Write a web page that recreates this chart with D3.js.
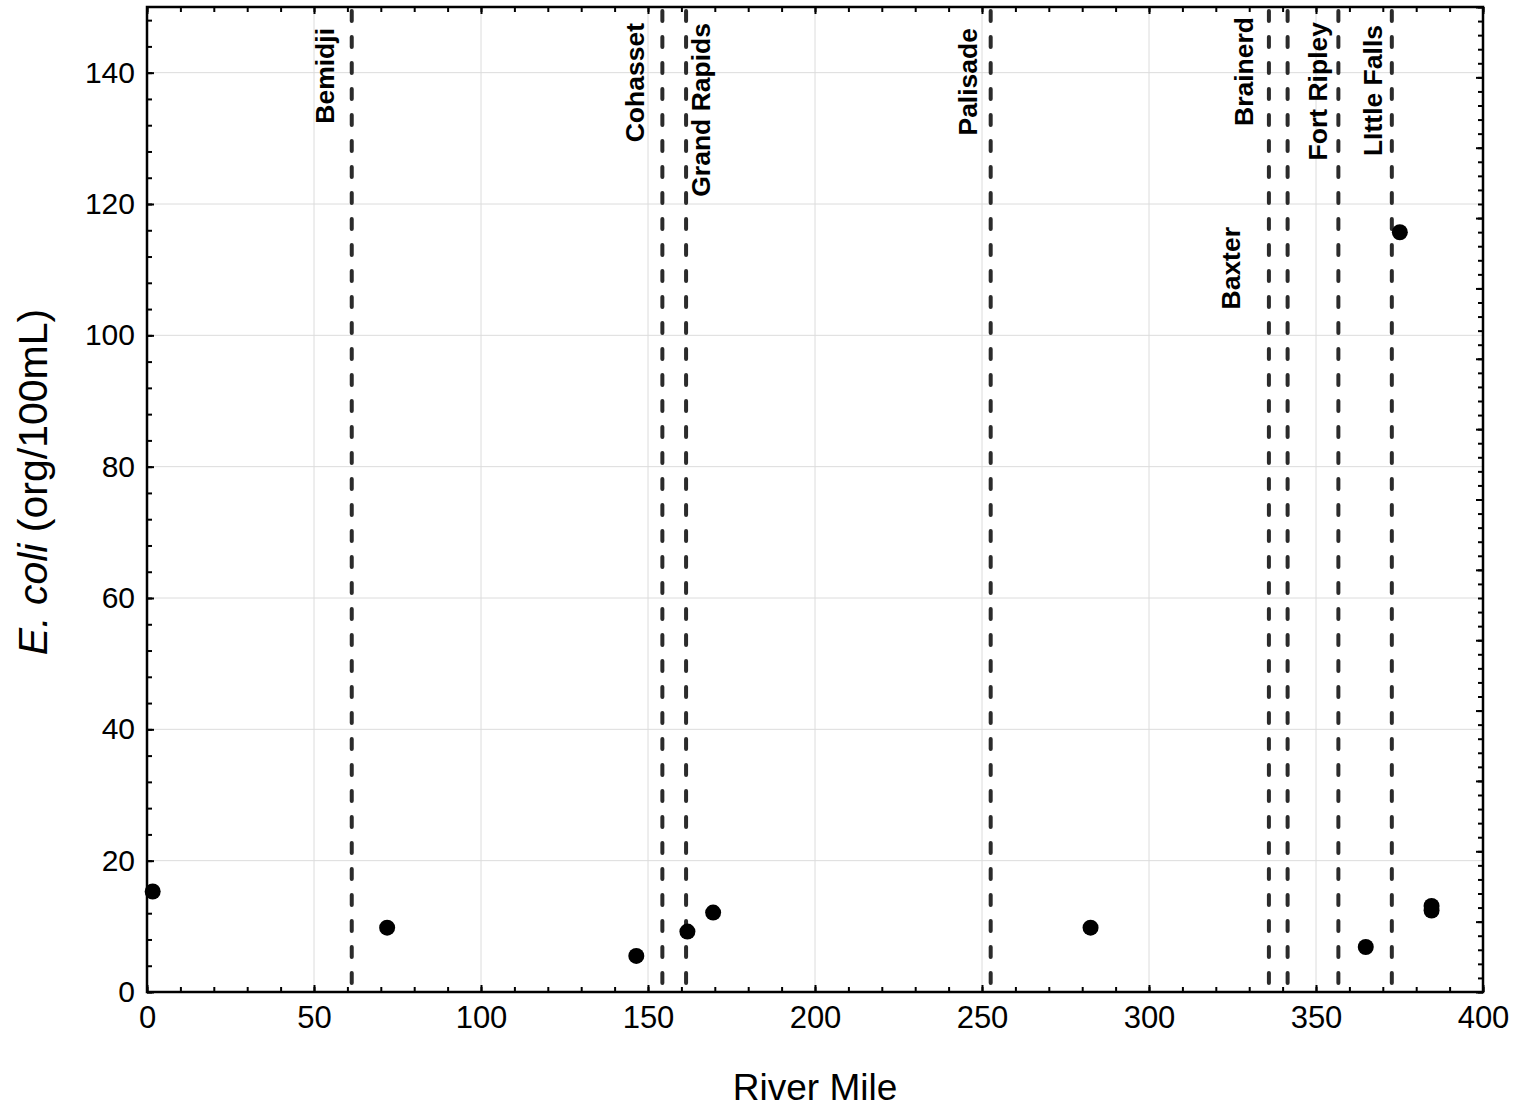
<!DOCTYPE html>
<html>
<head>
<meta charset="utf-8">
<script src="https://cdn.jsdelivr.net/npm/d3@7"></script>
<style>
  html, body { margin: 0; padding: 0; background: #fff; }
  svg { display: block; font-family: "Liberation Sans", Arial, sans-serif; }
</style>
</head>
<body>
<svg id="chart" width="1517" height="1110"></svg>
<script>
// ---- data ----
const stationNames = ["Bemidji", "Cohasset", "Grand Rapids", "Palisade", "Baxter", "Brainerd", "Fort Ripley", "LIttle Falls"];
const stationMiles = [61.3, 154.3, 161.4, 252.6, 335.9, 341.5, 356.7, 372.7];
const pointMiles = [1.7, 71.9, 146.5, 161.8, 169.5, 282.5, 364.9, 375.1, 384.6, 384.6];
const pointEcoli = [15.3, 9.8, 5.5, 9.2, 12.1, 9.8, 6.85, 115.7, 13.1, 12.4];
const xTickValues = [0, 50, 100, 150, 200, 250, 300, 350, 400];
const yTickValues = [0, 20, 40, 60, 80, 100, 120, 140];
const xTitle = "River Mile";
const yTitleItalic = "E. coli";
const yTitleRest = " (org/100mL)";

// ---- layout (not data) ----
const labelLayout = [ // dx from line (px), top y of text (px)
  { dx: -18, top: 28 },
  { dx: -18, top: 23 },
  { dx: 24, top: 23 },
  { dx: -14, top: 28 },
  { dx: -29, top: 227 },
  { dx: -35, top: 17 },
  { dx: -11, top: 22 },
  { dx: -10, top: 25 }
];

const W = 1517, H = 1110;
const margin = { left: 147, right: 34, top: 7, bottom: 118 };
const iw = W - margin.left - margin.right;
const ih = H - margin.top - margin.bottom;

const svg = d3.select("#chart");
const g = svg.append("g").attr("transform", `translate(${margin.left},${margin.top})`);

const x = d3.scaleLinear().domain([0, 400]).range([0, iw]);
const y = d3.scaleLinear().domain([0, 150]).range([ih, 0]);
const yRight = d3.scaleLinear().domain([0, 14]).range([ih, 0]);

// gridlines
g.append("g").selectAll("line").data(xTickValues.filter(v => v > 0 && v < 400)).join("line")
  .attr("x1", d => x(d)).attr("x2", d => x(d)).attr("y1", 0).attr("y2", ih)
  .attr("stroke", "#dcdcdc").attr("stroke-width", 1);
g.append("g").selectAll("line").data(yTickValues.filter(v => v > 0)).join("line")
  .attr("y1", d => y(d)).attr("y2", d => y(d)).attr("x1", 0).attr("x2", iw)
  .attr("stroke", "#dcdcdc").attr("stroke-width", 1);

// station dashed lines
g.append("g").selectAll("line").data(stationMiles).join("line")
  .attr("x1", d => x(d)).attr("x2", d => x(d)).attr("y1", 4).attr("y2", ih)
  .attr("stroke", "#2b2b2b").attr("stroke-width", 4)
  .attr("stroke-linecap", "round")
  .attr("stroke-dasharray", "10,16");

// station labels
g.append("g").selectAll("text").data(stationNames).join("text")
  .attr("transform", (d, i) => `translate(${x(stationMiles[i]) + labelLayout[i].dx},${labelLayout[i].top - margin.top}) rotate(-90)`)
  .attr("text-anchor", "end")
  .attr("font-size", 26.5).attr("font-weight", "bold").attr("fill", "#000")
  .text(d => d);

// points
g.append("g").selectAll("circle").data(pointMiles).join("circle")
  .attr("cx", d => x(d)).attr("cy", (d, i) => y(pointEcoli[i]))
  .attr("r", 8).attr("fill", "#000");

function styleAxis(sel) {
  sel.select(".domain").remove();
  sel.selectAll(".tick line").attr("stroke", "#000").attr("stroke-width", 2);
  sel.selectAll(".tick text").attr("fill", "#000").attr("font-family", '"Liberation Sans", Arial, sans-serif');
}

// bottom axis
g.append("g").attr("transform", `translate(0,${ih})`)
  .call(d3.axisBottom(x).tickValues(d3.range(0, 401, 10)).tickSize(-5).tickFormat(""))
  .call(styleAxis);
g.append("g").attr("transform", `translate(0,${ih})`)
  .call(d3.axisBottom(x).tickValues(xTickValues).tickSize(-7).tickPadding(14).tickFormat(d3.format("d")))
  .call(styleAxis)
  .selectAll("text").attr("font-size", 31);

// top axis
g.append("g")
  .call(d3.axisTop(x).tickValues(d3.range(0, 401, 10)).tickSize(-5).tickFormat(""))
  .call(styleAxis);
g.append("g")
  .call(d3.axisTop(x).tickValues(xTickValues).tickSize(-7).tickFormat(""))
  .call(styleAxis);

// left axis
g.append("g")
  .call(d3.axisLeft(y).tickValues(d3.range(0, 151, 4)).tickSize(-5).tickFormat(""))
  .call(styleAxis);
g.append("g")
  .call(d3.axisLeft(y).tickValues(yTickValues).tickSize(-7).tickPadding(12).tickFormat(d3.format("d")))
  .call(styleAxis)
  .selectAll("text").attr("font-size", 30);

// right axis (unlabelled)
g.append("g").attr("transform", `translate(${iw},0)`)
  .call(d3.axisRight(yRight).tickValues(d3.range(0, 14.01, 0.2)).tickSize(-5).tickFormat(""))
  .call(styleAxis);
g.append("g").attr("transform", `translate(${iw},0)`)
  .call(d3.axisRight(yRight).tickValues(d3.range(0, 15, 1)).tickSize(-7).tickFormat(""))
  .call(styleAxis);

// frame
g.append("rect").attr("x", 0).attr("y", 0).attr("width", iw).attr("height", ih)
  .attr("fill", "none").attr("stroke", "#000").attr("stroke-width", 2.5);

// axis titles
svg.append("text")
  .attr("x", margin.left + iw / 2).attr("y", 1100)
  .attr("text-anchor", "middle").attr("font-size", 37).attr("fill", "#000")
  .text(xTitle);

const yt = svg.append("text")
  .attr("transform", `translate(47,482) rotate(-90)`)
  .attr("text-anchor", "middle").attr("font-size", 41).attr("fill", "#000");
yt.append("tspan").attr("font-style", "italic").text(yTitleItalic);
yt.append("tspan").text(yTitleRest);
</script>
</body>
</html>
